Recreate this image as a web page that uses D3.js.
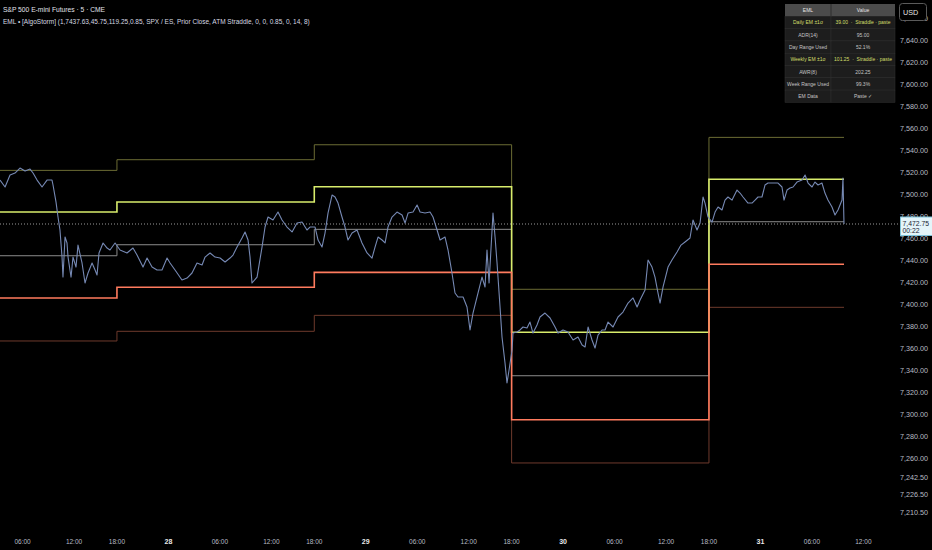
<!DOCTYPE html>
<html>
<head>
<meta charset="utf-8">
<script src="https://cdn.jsdelivr.net/npm/d3@7"></script>
<style>
  body { margin: 0; background: #000; }
  svg { display: block; font-family: "Liberation Sans", Arial, sans-serif; }
</style>
</head>
<body>
<svg></svg>
<script>
// trading hours counted from 28 00:00 (the 17:00-18:00 break is skipped)
var priceHours = [-19.63,-19.04,-18.46,-17.88,-17.30,-16.71,-16.13,-15.78,-15.31,-14.73,-14.15,-13.57,-13.45,-13.10,-12.87,-12.64,-12.40,-12.29,-12.05,-11.82,
  -11.70,-11.35,-11.12,-10.77,-10.54,-10.07,-9.72,-9.37,-8.90,-8.55,-8.32,-8.09,-7.62,-7.15,-6.81,-6.22,-5.64,-4.83,-4.13,-3.66,
  -2.96,-2.49,-1.91,-1.33,-0.75,-0.16,0.19,0.77,1.58,2.17,2.75,3.33,3.92,4.27,4.85,5.43,6.02,6.60,7.18,7.53,
  8.00,8.58,8.93,9.28,9.51,9.74,10.33,10.91,11.26,11.61,12.19,12.77,13.24,13.82,14.41,14.99,15.57,16.15,16.50,17.09,
  17.44,17.90,18.25,18.60,19.07,19.42,19.77,20.23,20.58,20.93,21.40,21.98,22.56,23.15,23.73,24.08,24.43,24.90,25.25,25.59,
  26.06,26.64,27.23,27.58,27.93,28.51,28.98,29.33,29.91,30.49,30.84,31.31,31.66,32.24,32.59,33.05,33.40,33.75,34.34,34.80,
  35.15,35.50,36.08,36.55,36.90,37.13,37.37,37.72,37.83,38.07,38.30,38.65,38.88,39.23,39.46,39.70,40.05,40.16,40.63,40.98,
  41.33,41.79,42.14,42.49,42.96,43.31,43.89,44.48,45.06,45.41,45.99,46.57,47.16,47.74,48.21,48.56,48.91,49.37,49.72,50.07,
  50.54,50.89,51.24,51.82,52.40,52.98,53.57,54.15,54.62,54.97,55.55,55.90,56.36,56.71,57.06,57.30,57.65,58.23,58.69,59.28,
  59.74,60.21,60.79,61.14,61.61,61.96,62.31,62.54,62.89,63.36,63.71,64.06,64.52,64.87,65.22,65.69,66.27,66.62,66.97,67.55,
  68.02,68.37,68.72,69.18,69.53,69.88,70.47,71.05,71.51,71.75,72.10,72.45,72.80,73.26,73.85,74.20,74.55,75.01,75.36,75.71,
  76.17,76.52,76.87,77.34,77.69,78.04,78.51,78.62,78.74];
var priceClose = [7512.7,7506.4,7517.3,7519.1,7523.6,7520.9,7522.7,7519.1,7512.7,7506.4,7512.7,7512.7,7508.2,7492.7,7479.1,7467.3,7442.7,7424.5,7460.9,7455.5,
  7442.7,7424.5,7442.7,7433.6,7453.6,7437.3,7419.1,7428.2,7437.3,7430.9,7426.4,7446.4,7455.5,7450.9,7449.1,7455.5,7449.1,7446.4,7450.9,7444.5,
  7433.6,7441.8,7433.6,7430.9,7430.9,7441.8,7437.3,7430.9,7421.8,7423.6,7428.2,7437.3,7435.5,7442.7,7446.4,7442.7,7441.8,7438.2,7441.8,7444.5,
  7451.8,7460.0,7465.5,7458.2,7442.7,7419.1,7424.5,7451.8,7470.0,7479.1,7476.4,7483.6,7476.4,7470.0,7465.5,7473.6,7474.5,7467.3,7470.0,7470.0,
  7458.2,7451.8,7464.5,7482.7,7499.1,7497.3,7491.8,7479.1,7470.0,7458.2,7464.5,7467.3,7455.5,7446.4,7441.8,7451.8,7460.9,7458.2,7455.5,7470.0,
  7479.1,7483.6,7480.9,7473.6,7482.7,7483.6,7490.0,7483.6,7482.7,7483.6,7479.1,7467.3,7458.2,7460.9,7449.1,7428.2,7410.0,7406.4,7406.4,7397.3,
  7376.4,7391.8,7410.0,7424.5,7415.5,7449.1,7419.1,7467.3,7482.7,7460.9,7437.3,7397.3,7370.0,7346.4,7328.2,7340.0,7358.2,7373.6,7374.5,7376.4,
  7379.1,7378.2,7383.6,7373.6,7380.9,7388.2,7391.8,7387.3,7379.1,7373.6,7376.4,7374.5,7367.3,7370.0,7362.7,7360.9,7379.1,7367.3,7360.0,7371.8,
  7376.4,7376.4,7383.6,7379.1,7388.2,7392.7,7400.9,7405.5,7397.3,7403.6,7412.7,7440.0,7433.6,7424.5,7410.0,7400.9,7415.5,7433.6,7440.0,7447.3,
  7453.6,7456.4,7460.0,7476.4,7467.3,7473.6,7497.3,7491.8,7479.1,7474.5,7483.6,7488.2,7485.5,7494.5,7497.3,7494.5,7503.6,7500.9,7497.3,7491.8,
  7491.8,7494.5,7497.3,7497.3,7508.2,7510.0,7510.0,7510.0,7506.4,7494.5,7503.6,7505.5,7506.4,7510.9,7512.7,7517.3,7510.0,7506.4,7510.9,7508.2,
  7510.0,7500.9,7494.5,7488.2,7480.9,7485.5,7494.5,7514.5,7472.75];
var lastPrice = 7472.75;

// EML levels per session (session opens at 18:00)
var sessionStart = [-19.63, -6, 17, 40, 63];
var sessionEnd = 78.74;
var upperOuter = [7521.5, 7531.2, 7544.8, 7413.4, 7551.5];
var upperEM    = [7483.6, 7492.7, 7506.6, 7374.3, 7513.4];
var priorClose = [7443.9, 7453.9, 7467.9, 7334.8, 7474.8];
var lowerEM    = [7405.5, 7415.2, 7428.8, 7294.8, 7436.1];
var lowerOuter = [7366.4, 7375.2, 7389.7, 7255.5, 7397.0];

var yTicks = [7660, 7640, 7620, 7600, 7580, 7560, 7540, 7520, 7500, 7480, 7460, 7440, 7420, 7400, 7380, 7360, 7340, 7320, 7300, 7280, 7260, 7242.5, 7226.5, 7210.5];
var xTickHours  = [-17, -11, -6, 0, 6, 12, 17, 23, 29, 35, 40, 46, 52, 58, 63, 69, 75, 81];
var xTickLabels = ['06:00','12:00','18:00','28','06:00','12:00','18:00','29','06:00','12:00','18:00','30','06:00','12:00','18:00','31','06:00','12:00'];

var tableKeys   = ['Daily EM ±1σ', 'ADR(14)', 'Day Range Used', 'Weekly EM ±1σ', 'AWR(8)', 'Week Range Used', 'EM Data'];
var tableValues = ['39.00  ·  Straddle · paste', '95.00', '52.1%', '101.25  ·  Straddle · paste', '202.25', '99.3%', 'Paste ✓'];
var tableHighlight = [true, false, false, true, false, false, false];

var svgWidth = 932;
var svgHeight = 550;
var plotWidth = 896;
var plotHeight = 525;

var svg = d3.select('svg')
    .attr('width', svgWidth)
    .attr('height', svgHeight);

svg.append('rect').attr('width', svgWidth).attr('height', svgHeight).attr('fill', '#000');

var x = d3.scaleLinear().domain([-19.63, 84.8]).range([0, plotWidth]);
var y = d3.scaleLinear().domain([7199.1, 7676.4]).range([plotHeight, 0]);

svg.append('clipPath').attr('id', 'plotclip')
    .append('rect').attr('width', plotWidth).attr('height', plotHeight);

var plot = svg.append('g').attr('clip-path', 'url(#plotclip)');

// step lines for the levels
var stepLine = d3.line()
    .x(function(d) { return x(d[0]); })
    .y(function(d) { return y(d[1]); })
    .curve(d3.curveStepAfter);

function levelPoints(vals) {
    var pts = sessionStart.map(function(s, i) { return [s, vals[i]]; });
    pts.push([sessionEnd, vals[vals.length - 1]]);
    return pts;
}

var levels = [
    { vals: upperOuter, color: '#6b6c34', w: 1 },
    { vals: lowerOuter, color: '#6e3a2c', w: 1 },
    { vals: priorClose, color: '#8c8c8c', w: 1 },
    { vals: upperEM,    color: '#d8ec6c', w: 1.6 },
    { vals: lowerEM,    color: '#ff7b5e', w: 1.6 }
];

levels.forEach(function(l) {
    plot.append('path')
        .attr('d', stepLine(levelPoints(l.vals)))
        .attr('fill', 'none')
        .attr('stroke', l.color)
        .attr('stroke-width', l.w);
});

// last price dotted line
svg.append('line')
    .attr('x1', 0).attr('x2', 900)
    .attr('y1', y(lastPrice)).attr('y2', y(lastPrice))
    .attr('stroke', '#9a9a9a')
    .attr('stroke-width', 1)
    .attr('stroke-dasharray', '1,2');

// price line
var priceLine = d3.line()
    .x(function(d, i) { return x(priceHours[i]); })
    .y(function(d) { return y(d); });

plot.append('path')
    .attr('d', priceLine(priceClose))
    .attr('fill', 'none')
    .attr('stroke', '#7689b4')
    .attr('stroke-width', 1.1)
    .attr('stroke-linejoin', 'round');

// price axis on the right
svg.selectAll('text.ytick').data(yTicks)
    .enter()
    .append('text')
    .attr('class', 'ytick')
    .attr('x', 928)
    .attr('y', function(d) { return y(d) + 2.5; })
    .attr('text-anchor', 'end')
    .attr('font-size', '7.2px')
    .attr('fill', '#b8bbc4')
    .text(function(d) { return d3.format(',.2f')(d); });

// time axis
svg.selectAll('text.xtick').data(xTickHours)
    .enter()
    .append('text')
    .attr('class', 'xtick')
    .attr('x', function(d) { return x(d); })
    .attr('y', 544)
    .attr('text-anchor', 'middle')
    .attr('font-size', function(d, i) { return xTickLabels[i].length < 3 ? '7px' : '6.5px'; })
    .attr('font-weight', function(d, i) { return xTickLabels[i].length < 3 ? 'bold' : 'normal'; })
    .attr('fill', function(d, i) { return xTickLabels[i].length < 3 ? '#e8e8e8' : '#b8bbc4'; })
    .text(function(d, i) { return xTickLabels[i]; });

// title lines
svg.append('text').attr('x', 3).attr('y', 11.5)
    .attr('font-size', '6.7px').attr('fill', '#e0e3ea')
    .text('S&P 500 E-mini Futures · 5 · CME');
svg.append('text').attr('x', 3).attr('y', 23.5)
    .attr('font-size', '6.5px').attr('fill', '#d6d9e0')
    .text('EML • [AlgoStorm] (1,7437.63,45.75,119.25,0.85, SPX / ES, Prior Close, ATM Straddle, 0, 0, 0.85, 0, 14, 8)');

// EML table
var tblX = 785, tblY = 4, col1 = 46, col2 = 64, rowH = 12.3;
var tbl = svg.append('g');
tbl.append('rect').attr('x', tblX).attr('y', tblY).attr('width', col1 + col2).attr('height', rowH)
    .attr('fill', '#4b4b4b');
tbl.append('line').attr('x1', tblX + col1).attr('x2', tblX + col1).attr('y1', tblY).attr('y2', tblY + rowH)
    .attr('stroke', '#2e2e2e');
tbl.append('text').attr('x', tblX + col1 / 2).attr('y', tblY + 8.3).attr('text-anchor', 'middle')
    .attr('font-size', '5px').attr('fill', '#e6e6e6').text('EML');
tbl.append('text').attr('x', tblX + col1 + col2 / 2).attr('y', tblY + 8.3).attr('text-anchor', 'middle')
    .attr('font-size', '5px').attr('fill', '#e6e6e6').text('Value');

var rows = tbl.selectAll('g.row').data(tableKeys)
    .enter()
    .append('g')
    .attr('class', 'row')
    .attr('transform', function(d, i) { return 'translate(' + tblX + ',' + (tblY + rowH * (i + 1)) + ')'; });

rows.append('rect').attr('width', col1).attr('height', rowH)
    .attr('fill', '#1d1d1d').attr('stroke', '#333').attr('stroke-width', 0.5);
rows.append('rect').attr('x', col1).attr('width', col2).attr('height', rowH)
    .attr('fill', '#1d1d1d').attr('stroke', '#333').attr('stroke-width', 0.5);
rows.append('text')
    .attr('x', col1 / 2).attr('y', 8.2).attr('text-anchor', 'middle')
    .attr('font-size', '5px')
    .attr('fill', function(d, i) { return tableHighlight[i] ? '#d3df6a' : '#c4c4c4'; })
    .text(function(d) { return d; });
rows.append('text')
    .attr('x', col1 + col2 / 2).attr('y', 8.2).attr('text-anchor', 'middle')
    .attr('font-size', '5px')
    .attr('fill', function(d, i) { return tableHighlight[i] ? '#d3df6a' : '#c4c4c4'; })
    .attr('xml:space', 'preserve')
    .text(function(d, i) { return tableValues[i]; });

// currency box (hides the top tick, as on the original)
svg.append('rect').attr('x', 899.5).attr('y', 3.5).attr('width', 27).attr('height', 17).attr('rx', 3)
    .attr('fill', '#000').attr('stroke', '#5a5a5a');
svg.append('text').attr('x', 903).attr('y', 14.5).attr('font-size', '7.2px').attr('fill', '#e6e6e6').text('USD');

// last price label
var lp = y(lastPrice);
svg.append('rect').attr('x', 900.5).attr('y', lp - 7).attr('width', 32).attr('height', 18.5)
    .attr('fill', '#e4f5fa').attr('stroke', '#7fc3da');
svg.append('text').attr('x', 902.5).attr('y', lp + 1.5).attr('font-size', '6.8px').attr('fill', '#1a2232')
    .text(d3.format(',.2f')(lastPrice));
svg.append('text').attr('x', 902.5).attr('y', lp + 9).attr('font-size', '6.8px').attr('fill', '#1a2232')
    .text('00:22');
</script>
</body>
</html>
